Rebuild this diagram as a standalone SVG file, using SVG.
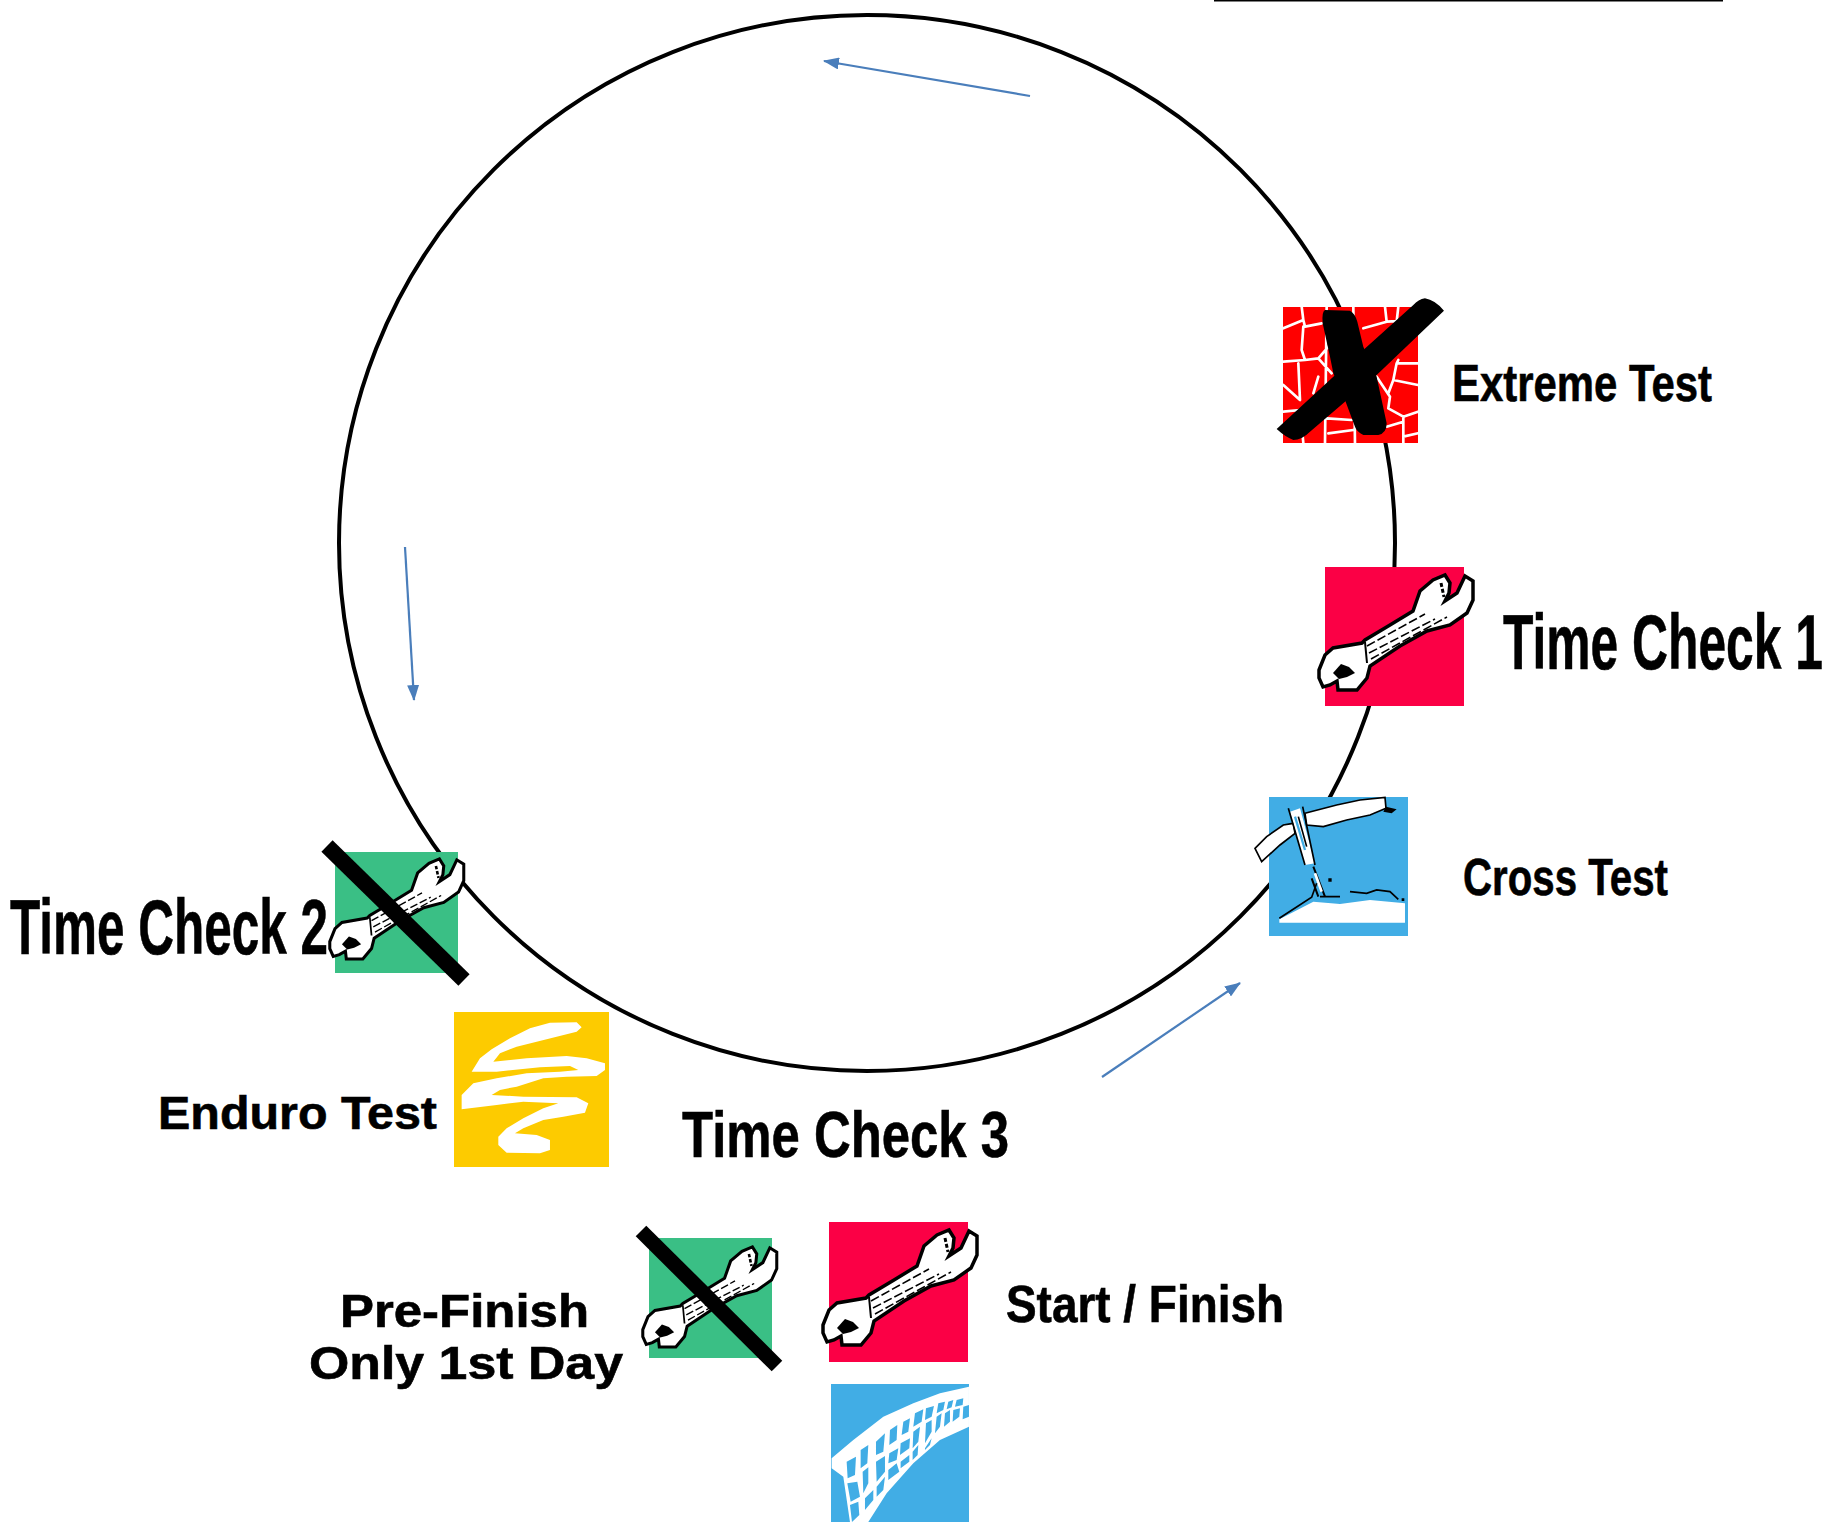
<svg xmlns="http://www.w3.org/2000/svg" width="1835" height="1522" viewBox="0 0 1835 1522">
<style>
.lbl{font-family:"Liberation Sans",Arial,sans-serif;font-weight:700;fill:#000;stroke:#000;stroke-width:.6}
.arrow{fill:none;stroke:#4a7ebb;stroke-width:2.2;marker-end:url(#ah)}
.wr{fill:#fff;stroke:#000;stroke-width:3.5;stroke-linejoin:miter}
.wl{fill:none;stroke:#000;stroke-width:1.6;stroke-dasharray:9 3}
.crack{fill:none;stroke:#fff;stroke-width:8;stroke-linejoin:round;stroke-linecap:round}
.bar{stroke:#000;fill:none}
</style>
<defs>
<marker id="ah" markerUnits="userSpaceOnUse" markerWidth="16" markerHeight="12" refX="15" refY="6" orient="auto"><path d="M0 0L16 6L0 12Z" fill="#4a7ebb"/></marker>
<g id="wrench">
<path class="wr" d="M-6 103L0 88L8 81L37 76L40 73L65 58L88 44L95 24L108 13L120 8L125 16L124 26L120 34L132 26L140 9L148 14L148 33L142 46L125 58L102 64L75 79L45 99L42 111L32 123L13 123L12 114L5 118L-2 120L-6 111Z"/>
<path class="wl" d="M42 79L100 47M44 86L110 52M46 92L122 50"/>
<path d="M40 75L42 96" stroke="#000" stroke-width="2"/>
<path d="M8 106L16 97L24 100L30 106L22 110L14 112Z" fill="#000"/>
<path d="M116 16L119 30" stroke="#000" stroke-width="3" stroke-dasharray="4 2"/>
</g>
</defs>
<g id="connectors">
<circle id="track" cx="867" cy="543" r="528" fill="none" stroke="#000" stroke-width="4"/>
<path class="arrow" d="M1030 96L824 61"/>
<path class="arrow" d="M405 547L414 700"/>
<path class="arrow" d="M1102 1077L1240 983"/>
</g>
<path id="top-rule" d="M1214 0.500H1723" stroke="#000" stroke-width="2"/>

<g id="extreme-test">
<rect x="1283" y="307" width="135" height="136" fill="#f00"/>
<g transform="translate(1250 280) scale(.3333)">
<path class="crack" d="M155 80L160 120L100 145M160 120L165 140L215 130M160 140L155 210L165 240L100 245M165 240L205 235L240 195M205 235L245 280M145 250L150 360M100 315L150 360M205 290L190 340M150 390L100 395M230 80L225 490M310 80L315 490M405 80L410 125L340 145M410 125L504 120M445 80L440 125M445 240L440 250L504 250M430 300L504 315M415 340L430 300L440 250M380 290L420 350L415 385L460 410L504 395M460 410L460 490M230 415L305 420M235 460L310 450M150 390L160 488M410 440L460 425M460 470L504 460"/>
<path d="M225 90L300 92Q315 100 322 125L340 200L380 290L410 430Q410 460 385 465L340 465Q320 455 315 440L285 360L250 280L240 230L218 130Q215 95 225 90Z" fill="#000"/>
<path d="M525 55Q555 60 582 92L380 285L285 365L180 455Q155 480 130 480Q105 470 80 447L250 290L340 210L490 75Q505 58 525 55Z" fill="#000"/>
</g>
</g>

<g id="time-check-1">
<rect x="1325" y="567" width="139" height="139" fill="#fb0045"/>
<use href="#wrench" x="1325" y="567"/>
</g>

<g id="cross-test">
<rect x="1269" y="797" width="139" height="139" fill="#41ade5"/>
<g transform="translate(1250 550) scale(.3333)">
<path d="M165 790L260 765L330 750L405 742L408 775L360 795L290 810L220 830L170 825Z" fill="#fff" stroke="#000" stroke-width="5"/>
<path d="M408 770L440 778L425 790L400 785Z" fill="#000"/>
<path d="M15 895L50 860L100 825L130 820L135 850L90 885L35 935Z" fill="#fff" stroke="#000" stroke-width="5"/>
<path d="M120 785L150 775L195 940L165 945Z" fill="#fff"/>
<path d="M115 775L165 945M158 770L195 945M145 800L170 890" fill="none" stroke="#000" stroke-width="5"/>
<path d="M135 800L165 900" fill="none" stroke="#41ade5" stroke-width="7"/>
<path d="M190 950L225 1040M185 985L205 1040" stroke="#000" stroke-width="6" fill="none"/>
<path d="M195 970L215 1025" stroke="#fff" stroke-width="8" fill="none"/>
<path d="M88 1108L190 1055L270 1062L360 1050L465 1060L465 1118L88 1118Z" fill="#fff"/>
<path d="M88 1105L185 1042L200 1000M300 1025L350 1030L380 1020L420 1025L445 1048M210 1040L270 1040" stroke="#000" stroke-width="5" fill="none"/>
<path d="M455 1045h8v8h-8zM235 985h10v10h-10z" fill="#000"/>
</g>
</g>

<g id="time-check-2">
<rect x="335" y="852" width="123" height="121" fill="#3abf85"/>
<use href="#wrench" transform="translate(335 852) scale(.87)"/>
<path d="M327 846L464 980" stroke="#000" stroke-width="16" fill="none"/>
</g>

<g id="enduro-test">
<rect x="454" y="1012" width="155" height="155" fill="#fdcb00"/>
<path transform="translate(310 820) scale(.3333)" fill="#fff" d="M485 755L510 715L545 688L600 655L660 625L720 608L800 607L815 622L800 635L740 650L680 665L620 680L570 700L550 725L650 715L770 708L830 715L885 730L885 750L860 768L770 770L700 775L620 800L570 810L545 825L640 830L800 832L835 850L825 878L760 890L700 900L640 925L615 940L680 945L720 960L720 990L690 1000L590 998L565 975L565 950L590 925L640 895L700 865L745 850L640 845L560 855L455 868L455 825L490 790L560 775L650 760L750 755L805 750L780 738L690 742L560 755Z"/>
</g>

<g id="pre-finish">
<rect x="649" y="1238" width="123" height="120" fill="#3abf85"/>
<use href="#wrench" transform="translate(648 1240) scale(.87)"/>
<path d="M641 1231L777 1366" stroke="#000" stroke-width="15" fill="none"/>
</g>

<g id="start-finish">
<rect x="829" y="1222" width="139" height="140" fill="#fb0045"/>
<use href="#wrench" x="829" y="1222"/>
</g>

<g id="finish-net">
<rect x="831" y="1384" width="138" height="138" fill="#41ade5"/>
<g transform="translate(620 1200) scale(.3333)">
<path fill="#fff" d="M635 775L700 720L790 650L880 610L960 580L1047 560V680L960 720L880 790L800 880L745 966H690L670 830L635 805Z"/>
<path fill="#41ade5" d="M680 785L708 770L705 825L683 835ZM722 750L745 735L742 790L722 805ZM768 725L795 700L790 755L768 765ZM810 690L832 675L830 720L808 735ZM850 665L870 655L865 695L845 705ZM885 640L910 628L905 665L880 680ZM918 625L942 618L935 650L915 660ZM955 610L975 605L970 630L950 640ZM985 605L1000 600L995 622L980 628ZM1010 600L1030 595L1028 615L1005 620ZM682 850L712 845L720 890L692 905ZM728 815L745 802L745 850L730 880ZM768 785L795 768L795 815L770 845ZM808 760L835 745L830 780L805 790ZM842 730L870 715L868 745L840 765ZM880 695L900 680L895 725L878 745ZM918 670L935 660L935 695L915 730ZM950 650L965 640L960 680L945 700ZM975 640L990 630L990 665L972 680ZM1000 630L1020 625L1018 650L998 665ZM1030 620L1047 615L1047 650L1028 658ZM690 915L715 905L718 945L696 966ZM735 895L760 870L760 900L735 930ZM770 860L795 830L790 870L770 890ZM805 810L830 790L838 815L805 840ZM842 785L868 765L868 785L842 805ZM878 755L895 735L893 765L878 780ZM915 745L935 715L930 735L915 750Z"/>
</g>
</g>

<g id="labels">
<text class="lbl" x="1452" y="401" font-size="52" textLength="260" lengthAdjust="spacingAndGlyphs">Extreme Test</text>
<text class="lbl" x="1503" y="669" font-size="77" textLength="320" lengthAdjust="spacingAndGlyphs">Time Check 1</text>
<text class="lbl" x="1463" y="895" font-size="52" textLength="205" lengthAdjust="spacingAndGlyphs">Cross Test</text>
<text class="lbl" x="10" y="954" font-size="77" textLength="318" lengthAdjust="spacingAndGlyphs">Time Check 2</text>
<text class="lbl" x="158" y="1129" font-size="47" textLength="279" lengthAdjust="spacingAndGlyphs">Enduro Test</text>
<text class="lbl" x="682" y="1157" font-size="64" textLength="327" lengthAdjust="spacingAndGlyphs">Time Check 3</text>
<text class="lbl" x="1006" y="1322" font-size="52" textLength="278" lengthAdjust="spacingAndGlyphs">Start / Finish</text>
<text class="lbl" x="340" y="1327" font-size="46" textLength="249" lengthAdjust="spacingAndGlyphs">Pre-Finish</text>
<text class="lbl" x="309" y="1379" font-size="46" textLength="314" lengthAdjust="spacingAndGlyphs">Only 1st Day</text>
</g>
</svg>
